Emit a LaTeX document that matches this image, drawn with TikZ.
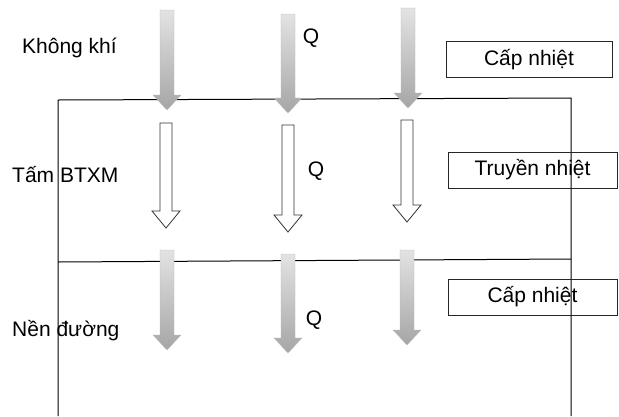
\documentclass[tikz,border=0pt]{standalone}
\usepackage{fontspec}
\setmainfont{Liberation Sans}
\begin{document}
\begin{tikzpicture}[x=1pt,y=-1pt,
  lbl/.style={inner sep=0pt,font=\fontsize{21}{24}\selectfont},
  boxlbl/.style={draw=black!85,line width=1pt,inner sep=0pt,font=\fontsize{21}{24}\selectfont},
  layerline/.style={draw=black,line width=1pt},
  hollow/.style={draw=black!80,fill=white,line width=0.8pt,line join=miter},
  grayar/.style={top color=gray!22,bottom color=gray!70,draw=gray!55,line width=0.3pt}]
\useasboundingbox (0,0) rectangle (619,416);
\newcommand\garr[3]{\shade[grayar] (#1-7,#2) -- (#1+7,#2) -- (#1+7,#3-15) -- (#1+14,#3-15) -- (#1,#3) -- (#1-14,#3-15) -- (#1-7,#3-15) -- cycle;}
\newcommand\harr[3]{\draw[hollow] (#1-6,#2) -- (#1+6,#2) -- (#1+6,#3-17) -- (#1+14,#3-17) -- (#1,#3) -- (#1-14,#3-17) -- (#1-6,#3-17) -- cycle;}
% layers
\coordinate (tl) at (58,100);
\coordinate (tr) at (571,98);
\coordinate (ml) at (58,262);
\coordinate (mr) at (571,259);
\coordinate (bl) at (58,416);
\coordinate (br) at (571,416);
\draw[layerline] (bl) -- (tl) -- (tr) -- (br);
\draw[layerline] (ml) -- (mr);
% arrows: air
\garr{167}{10}{110}
\garr{288}{14}{113}
\garr{408}{8}{108}
% arrows: slab (hollow)
\harr{166}{123}{228}
\harr{288}{125}{232}
\harr{407}{120}{222}
% arrows: subgrade
\garr{167}{250}{350}
\garr{288}{254}{353}
\garr{407}{250}{345}
% labels
\node[lbl,anchor=west] (air) at (22,48) {Không khí};
\node[lbl,anchor=west] (slab) at (12,175) {Tấm BTXM};
\node[lbl,anchor=west] (sub) at (12,331) {Nền đường};
\node[lbl] (q1) at (311,38) {Q};
\node[lbl] (q2) at (316,171) {Q};
\node[lbl] (q3) at (314,320) {Q};
\node[boxlbl,minimum width=166pt,minimum height=36pt] (b1) at (529,59.5) {Cấp nhiệt};
\node[boxlbl,minimum width=169pt,minimum height=36pt] (b2) at (532.5,170) {Truyền nhiệt};
\node[boxlbl,minimum width=169pt,minimum height=36pt] (b3) at (532.5,297) {Cấp nhiệt};
\end{tikzpicture}
\end{document}
